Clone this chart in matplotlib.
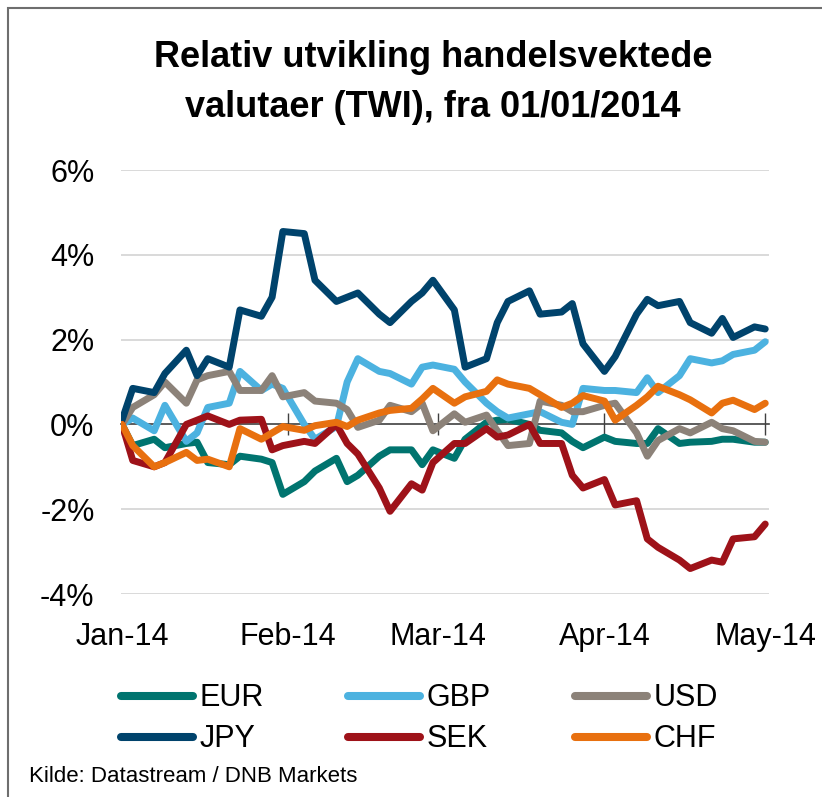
import matplotlib
matplotlib.use('Agg')
import matplotlib.pyplot as plt
from matplotlib.patches import Rectangle
from matplotlib.ticker import FuncFormatter
import pandas as pd

# Every second business day, 01/01/2014 - 01/05/2014
dates = pd.bdate_range('2014-01-01', '2014-05-01', freq='2B')

eur = [0.0, -0.5, -0.35, -0.55, -0.45, -0.42, -0.9, -0.95, -0.75, -0.82, -0.9,
       -1.65, -1.35, -1.1, -0.8, -1.35, -1.2, -0.75, -0.6, -0.6, -0.95, -0.6,
       -0.8, -0.35, 0.05, 0.1, 0.12, 0.0, -0.14, -0.2, -0.4, -0.55, -0.3,
       -0.4, -0.45, -0.45, -0.1, -0.45, -0.42, -0.4, -0.35, -0.35, -0.42, -0.42]
gbp = [0.0, 0.15, -0.15, 0.45, -0.4, -0.2, 0.4, 0.5, 1.25, 0.8, 0.95,
       0.85, 0.0, -0.35, -0.05, 1.0, 1.55, 1.25, 1.2, 0.95, 1.35, 1.4,
       1.3, 1.0, 0.5, 0.3, 0.15, 0.25, 0.3, 0.05, 0.0, 0.85, 0.8,
       0.8, 0.75, 1.1, 0.75, 1.15, 1.55, 1.45, 1.5, 1.65, 1.75, 1.95]
usd = [0.0, 0.4, 0.7, 1.0, 0.5, 1.05, 1.15, 1.25, 0.8, 0.8, 1.15,
       0.65, 0.75, 0.55, 0.5, 0.35, -0.07, 0.1, 0.45, 0.3, 0.5, -0.15,
       0.25, 0.05, 0.22, -0.15, -0.5, -0.45, 0.55, 0.45, 0.3, 0.3, 0.45,
       0.5, -0.2, -0.75, -0.38, -0.1, -0.2, 0.05, -0.1, -0.15, -0.4, -0.42]
jpy = [0.1, 0.85, 0.75, 1.2, 1.75, 1.15, 1.55, 1.35, 2.7, 2.55, 3.0,
       4.55, 4.5, 3.4, 2.9, 3.0, 3.1, 2.6, 2.4, 2.9, 3.1, 3.4,
       2.7, 1.35, 1.55, 2.4, 2.9, 3.15, 2.6, 2.65, 2.85, 1.9, 1.25,
       1.6, 2.6, 2.95, 2.8, 2.9, 2.4, 2.15, 2.5, 2.05, 2.3, 2.25]
sek = [0.0, -0.85, -1.0, -0.9, 0.0, 0.1, 0.2, 0.0, 0.1, 0.12, -0.6,
       -0.5, -0.4, -0.45, 0.0, -0.45, -0.7, -1.5, -2.05, -1.4, -1.55, -0.9,
       -0.45, -0.45, -0.1, -0.3, -0.25, 0.0, -0.45, -0.45, -1.2, -1.5, -1.3,
       -1.9, -1.8, -2.7, -2.9, -3.2, -3.4, -3.2, -3.25, -2.7, -2.65, -2.35]
chf = [0.0, -0.5, -1.0, -0.9, -0.66, -0.85, -0.82, -1.0, -0.1, -0.35, -0.2,
       -0.05, -0.14, -0.03, 0.05, -0.05, 0.1, 0.27, 0.33, 0.38, 0.6, 0.85,
       0.5, 0.65, 0.78, 1.05, 0.95, 0.85, 0.7, 0.4, 0.5, 0.68, 0.55,
       0.1, 0.45, 0.65, 0.9, 0.7, 0.58, 0.27, 0.5, 0.57, 0.35, 0.5]

names = ['EUR', 'GBP', 'USD', 'JPY', 'SEK', 'CHF']
colors = ['#00746F', '#4CB2E0', '#8C8279', '#00436C', '#9E1219', '#E8700F']
series = [eur, gbp, usd, jpy, sek, chf]

month_ticks = pd.to_datetime(['2014-01-01', '2014-02-01', '2014-03-01',
                              '2014-04-01', '2014-05-01'])
month_labels = ['Jan-14', 'Feb-14', 'Mar-14', 'Apr-14', 'May-14']

plt.rcParams['font.family'] = ['Liberation Sans', 'DejaVu Sans']

fig = plt.figure(figsize=(8.22, 7.97), dpi=100)
ax = fig.add_axes([121 / 822, 1 - 594 / 797, 648 / 822, 424 / 797])

# frame round the whole picture (only left and top edge visible)
fig.patches.append(Rectangle((8 / 822, -0.1), 1.2, 1.1 - 8 / 797, transform=fig.transFigure,
                             fill=False, edgecolor='#6E6E6E', lw=1.5, zorder=0))

for vals, name, col in zip(series, names, colors):
    ax.plot(dates, vals, color=col, lw=5, label=name,
            solid_joinstyle='round', solid_capstyle='round', zorder=3)

start = pd.Timestamp('2014-01-01')
ax.set_xlim(start - pd.Timedelta(days=0.19), start + pd.Timedelta(days=120.7))
ax.set_ylim(-4, 6)
ax.set_yticks([-4, -2, 0, 2, 4, 6])
ax.yaxis.set_major_formatter(FuncFormatter(lambda v, p: f'{v:.0f}%'))
for y in [-4, -2, 2, 4, 6]:
    ax.axhline(y, color='#D9D9D9', lw=1.4, zorder=1)

ax.set_xticks(month_ticks)
ax.set_xticklabels(month_labels)
ax.tick_params(axis='both', length=0, labelsize=22)
ax.tick_params(axis='y', pad=19)
ax.tick_params(axis='x', pad=20)
for s in ax.spines.values():
    s.set_visible(False)

# zero line with month ticks
zero = ax.secondary_xaxis(0.4)
zero.set_xticks(month_ticks)
zero.set_xticklabels([])
zero.tick_params(direction='inout', length=16, width=1, color='#404040')
zero.spines['bottom'].set_color('#404040')
zero.spines['bottom'].set_linewidth(1.2)
zero.set_zorder(2)

fig.text(433 / 822, 1 - 40 / 797, 'Relativ utvikling handelsvektede\nvalutaer (TWI), fra 01/01/2014',
         ha='center', va='top', fontsize=26, fontweight='bold', linespacing=1.55)

handles, labels = ax.get_legend_handles_labels()
order = [0, 3, 1, 4, 2, 5]
leg = fig.legend([handles[i] for i in order], [labels[i] for i in order],
                 ncol=3, loc='upper left', bbox_to_anchor=(106 / 822, 1 - 668 / 797),
                 frameon=False, fontsize=22, handlelength=2.35, handletextpad=0.22,
                 columnspacing=2.75, labelspacing=0.36, borderpad=0)
for line in leg.get_lines():
    line.set_linewidth(5.8)

fig.text(29 / 822, 1 - 777 / 797, 'Kilde: Datastream / DNB Markets', ha='left', va='center',
         fontsize=16)

fig.savefig('out.png', dpi=100)
